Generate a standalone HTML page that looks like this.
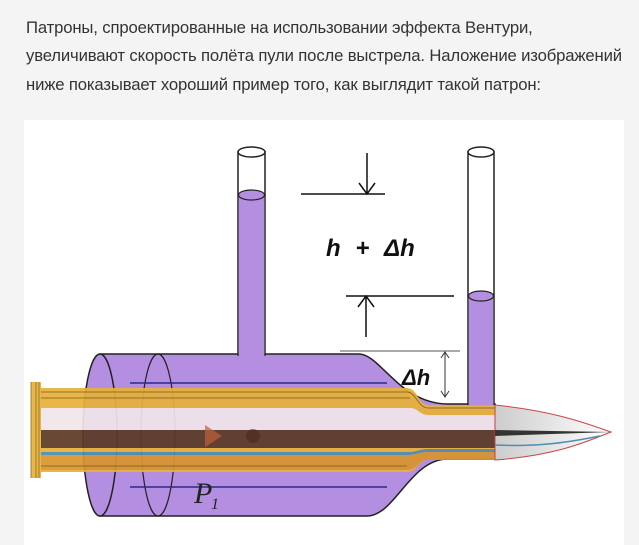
<!DOCTYPE html>
<html><head><meta charset="utf-8"><style>
html,body{margin:0;padding:0;background:#f4f4f4;width:639px;height:545px;overflow:hidden}
.t{position:absolute;left:26px;font-family:"Liberation Sans",sans-serif;font-size:16.7px;color:#333;white-space:nowrap;letter-spacing:-0.15px}
svg{position:absolute;left:0;top:0}
</style></head><body>
<div class="t" style="top:18px">Патроны, спроектированные на использовании эффекта Вентури,</div>
<div class="t" style="top:46px">увеличивают скорость полёта пули после выстрела. Наложение изображений</div>
<div class="t" style="top:75px">ниже показывает хороший пример того, как выглядит такой патрон:</div>
<svg width="639" height="545" viewBox="0 0 639 545">
<rect x="24" y="120" width="600" height="425" fill="#fff"/>
<defs><linearGradient id="b" x1="0" x2="1"><stop offset="0" stop-color="#ccc"/><stop offset="1" stop-color="#fff"/></linearGradient></defs>
<path d="M100 354 H359 C380 354 400 404 448 404 H495 V459 H448 C410 459 395 516 367 516 H100 Z" fill="#b48ee0" stroke="#222" stroke-width="1.5"/>
<ellipse cx="100" cy="435" rx="17" ry="81" fill="#b48ee0" stroke="#222" stroke-width="1.5"/>
<ellipse cx="158" cy="435" rx="17" ry="81" fill="none" stroke="#222" stroke-width="1.2"/>
<rect x="238" y="152" width="27" height="203" fill="#fff" stroke="#222" stroke-width="1.5"/>
<rect x="238.8" y="195" width="25.4" height="161" fill="#b48ee0"/>
<ellipse cx="251.5" cy="152" rx="13.5" ry="5" fill="#fff" stroke="#222" stroke-width="1.5"/>
<ellipse cx="251.5" cy="195" rx="13" ry="5" fill="#b48ee0" stroke="#222" stroke-width="1.2"/>
<rect x="468" y="152" width="26" height="253" fill="#fff" stroke="#222" stroke-width="1.5"/>
<rect x="468.8" y="296" width="24.4" height="109" fill="#b48ee0"/>
<ellipse cx="481" cy="152" rx="13" ry="5" fill="#fff" stroke="#222" stroke-width="1.5"/>
<ellipse cx="481" cy="296" rx="12.5" ry="5" fill="#b48ee0" stroke="#222" stroke-width="1.2"/>
<path d="M130 383 H387 M130 487 H387" stroke="#2a2a8a" stroke-width="1.5"/>
<g opacity="0.92">
<path d="M31 382 H41 V388 H407 C418 388 418 405 428 405 H495 V460 H428 C418 460 418 472 407 472 H41 V478 H31 Z" fill="#e8b13a"/>
<path d="M41 408 H410 C418 408 420 415 428 415 H495 V430 H41 Z" fill="#f1e6ea"/>
<path d="M41 430 H495 V448 H41 Z" fill="#5b3a26"/>
<path d="M41 452 H410 C416 452 420 449 428 449 H495 V452 H428 C420 452 416 455 410 455 H41 Z" fill="#4d8fb0"/>
<path d="M41 455 H407 C416 455 418 452 428 452 H495 V460 H428 C418 460 418 470 407 470 H41 Z" fill="#d8952e"/>
</g>
<path d="M41 392 H407 C416 392 418 408 428 408 H495 M41 398 H410 M41 466 H407" stroke="#7a5a1a" stroke-width="0.8" fill="none"/>
<path d="M495 405 C560 412 590 425 611 432 C590 440 560 455 495 460 Z" fill="url(#b)" stroke="#c44" stroke-width="1"/>
<path d="M495 430 L611 432 L495 436 Z" fill="#333"/>
<path d="M495 445 C540 447 570 442 600 436" stroke="#4d8fb0" fill="none" stroke-width="1.5"/>
<path d="M31 382 V478 M36 382 V478 M39 382 V478" stroke="#8a6a20" stroke-width="0.8"/>
<circle cx="253" cy="436" r="7" fill="#4a2a1a" opacity="0.6"/>
<path d="M205 425 L222 436 L205 447 Z" fill="#c0603a" opacity="0.7"/>
<path d="M301 194 H385 M367 153 V194 M359 183 L367 194 L375 183" stroke="#111" stroke-width="1.5" fill="none"/>
<path d="M346 296 H454 M366 296 V337 M358 307 L366 296 L374 307" stroke="#111" stroke-width="1.5" fill="none"/>
<path d="M340 351 H460" stroke="#555" stroke-width="1"/>
<path d="M445 352 V397 M441 358 L445 352 L449 358 M441 391 L445 397 L449 391" stroke="#333" stroke-width="1" fill="none"/>
<text x="326" y="256" font-family="Liberation Sans,sans-serif" font-size="24" font-style="italic" font-weight="bold" fill="#111" word-spacing="8">h + Δh</text>
<text x="402" y="385" font-family="Liberation Sans,sans-serif" font-size="22" font-style="italic" font-weight="bold" fill="#111">Δh</text>
<text x="194" y="503" font-family="Liberation Serif,serif" font-size="30" font-style="italic" fill="#222">P</text>
<text x="211" y="509" font-family="Liberation Serif,serif" font-size="16" font-style="italic" fill="#222">1</text>
</svg>
</body></html>
